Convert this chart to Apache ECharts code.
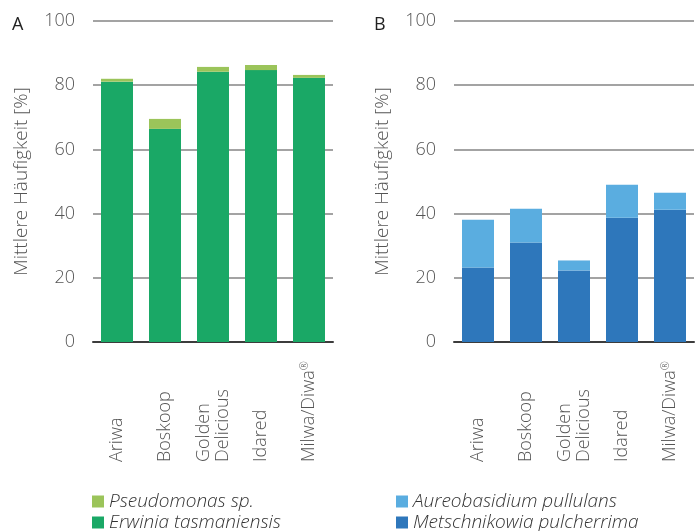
<!DOCTYPE html>
<html>
<head>
<meta charset="utf-8">
<script src="https://cdn.jsdelivr.net/npm/echarts@6/dist/echarts.min.js"></script>
<style>
  html, body { margin: 0; padding: 0; background: #fff; }
  #chart { width: 698px; height: 531px; }
</style>
</head>
<body>
<div id="chart"></div>
<script>
// Apple varieties
const cultivars = ['Ariwa', 'Boskoop', 'Golden\nDelicious', 'Idared', 'Milwa/Diwa®'];
const yTicks = [0, 20, 40, 60, 80, 100];

// Panel A: bacteria (mean frequency, %)
const erwinia = [81.1, 66.4, 84.2, 84.7, 82.3];
const pseudomonas = [0.9, 3.1, 1.5, 1.6, 0.9];

// Panel B: yeasts (mean frequency, %)
const metschnikowia = [23.2, 31.0, 22.3, 38.7, 41.2];
const aureobasidium = [14.9, 10.5, 3.1, 10.3, 5.3];

const FONT = '"Open Sans", sans-serif';
const textGray = '#555';

const chart = echarts.init(document.getElementById('chart'), null, { renderer: 'canvas' });

function xAxisFor(gridIndex) {
  return {
    type: 'category',
    gridIndex: gridIndex,
    data: cultivars,
    axisLine: { show: true, lineStyle: { color: '#3c3c3c', width: 2 } },
    axisTick: { show: false },
    axisLabel: {
      rotate: 90,
      align: 'left',
      verticalAlign: 'middle',
      margin: 120,
      interval: 0,
      formatter: function (v) {
        if (v.indexOf('®') >= 0) return '{t|' + v.replace('®', '') + '}{r|®}';
        return v.split('\n').map(function (s) { return '{t|' + s + '}'; }).join('\n');
      },
      rich: {
        t: { fontFamily: FONT, fontWeight: 300, fontSize: 18, color: textGray, lineHeight: 19 },
        r: { fontFamily: FONT, fontWeight: 300, fontSize: 11, color: textGray, verticalAlign: 'top', lineHeight: 19 }
      }
    }
  };
}

function yAxisFor(gridIndex) {
  return {
    type: 'value',
    gridIndex: gridIndex,
    min: yTicks[0],
    max: yTicks[yTicks.length - 1],
    interval: 20,
    name: 'Mittlere Häufigkeit [%]',
    nameLocation: 'middle',
    nameGap: 62,
    nameTextStyle: { fontFamily: FONT, fontWeight: 300, fontSize: 19, color: textGray },
    axisLine: { show: false },
    axisTick: { show: false },
    axisLabel: { margin: 18, fontFamily: FONT, fontWeight: 300, fontSize: 18, color: textGray },
    splitLine: { show: true, lineStyle: { color: '#858585', width: 1.5 } }
  };
}

// one legend block per entry so the rows stack freely past the bottom edge
function legendItem(name, left, top) {
  return {
    left: left, top: top, padding: 0, orient: 'vertical', itemWidth: 12, itemHeight: 12,
    icon: 'rect',
    data: [name],
    textStyle: { fontFamily: FONT, fontStyle: 'italic', fontWeight: 300, fontSize: 19, color: '#333' }
  };
}

const option = {
  animation: false,
  backgroundColor: '#fff',
  title: [
    { text: 'A', left: 7, top: 11, textStyle: { fontFamily: FONT, fontWeight: 400, fontSize: 18, color: '#222' } },
    { text: 'B', left: 369, top: 11, textStyle: { fontFamily: FONT, fontWeight: 400, fontSize: 18, color: '#222' } }
  ],
  grid: [
    { left: 93, right: 365, top: 21, bottom: 189 },
    { left: 454, right: 4, top: 21, bottom: 189 }
  ],
  xAxis: [xAxisFor(0), xAxisFor(1)],
  yAxis: [yAxisFor(0), yAxisFor(1)],
  legend: [
    legendItem('Pseudomonas sp.', 92, 492),
    legendItem('Erwinia tasmaniensis', 92, 513),
    legendItem('Aureobasidium pullulans', 396, 492),
    legendItem('Metschnikowia pulcherrima', 396, 513)
  ],
  series: [
    { name: 'Erwinia tasmaniensis', type: 'bar', stack: 'a', xAxisIndex: 0, yAxisIndex: 0, barWidth: 32, data: erwinia, itemStyle: { color: '#1aa866' } },
    { name: 'Pseudomonas sp.', type: 'bar', stack: 'a', xAxisIndex: 0, yAxisIndex: 0, barWidth: 32, data: pseudomonas, itemStyle: { color: '#9bc45a' } },
    { name: 'Metschnikowia pulcherrima', type: 'bar', stack: 'b', xAxisIndex: 1, yAxisIndex: 1, barWidth: 32, data: metschnikowia, itemStyle: { color: '#2e77bb' } },
    { name: 'Aureobasidium pullulans', type: 'bar', stack: 'b', xAxisIndex: 1, yAxisIndex: 1, barWidth: 32, data: aureobasidium, itemStyle: { color: '#5aade0' } }
  ]
};

chart.setOption(option);
</script>
</body>
</html>
